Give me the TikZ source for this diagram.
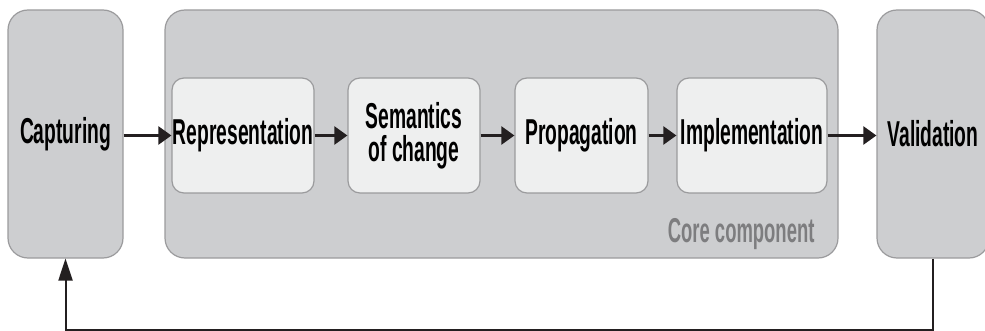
\documentclass[tikz,border=0pt]{standalone}
\usepackage{fontspec}
\setmainfont{Liberation Sans}[FakeStretch=0.535]
\usetikzlibrary{arrows.meta}
\definecolor{outergray}{RGB}{205,206,208}
\definecolor{innergray}{RGB}{238,239,239}
\definecolor{edgegray}{RGB}{155,155,157}
\definecolor{arrowdark}{RGB}{35,31,32}
\definecolor{labelgray}{RGB}{125,125,127}
\begin{document}
\begin{tikzpicture}[x=1pt,y=-1pt,
  outer/.style={draw=edgegray,line width=1.2pt,fill=outergray,rounded corners=20pt,
    minimum height=248pt,inner sep=0pt,font=\fontsize{36}{34}\selectfont\bfseries,text=black},
  inner/.style={draw=edgegray,line width=1.2pt,fill=innergray,rounded corners=12pt,
    minimum height=115pt,inner sep=0pt,align=center,
    font=\fontsize{36}{33}\selectfont\bfseries,text=black},
  flow/.style={draw=arrowdark,line width=2.4pt,-{Triangle[length=13pt,width=18pt]}},
  back/.style={draw=arrowdark,line width=2pt,-{Triangle[length=22pt,width=14pt]}}]
\useasboundingbox (0,0) rectangle (985,331);

% Outer blocks
\node[outer,minimum width=115pt] (capture) at (65.5,134) {Capturing};
\node[outer,minimum width=673pt] (core) at (501.5,134) {};
\node[outer,minimum width=112pt] (valid) at (933,134) {Validation};
\node[anchor=base east,text=labelgray,font=\fontsize{34.5}{36}\selectfont\bfseries] (corelabel) at (818,243) {Core component};

% Inner steps
\node[inner,minimum width=142pt] (repr) at (243,135.5) {Representation};
\node[inner,minimum width=132pt] (sem) at (414,135.5) {Semantics\\of change};
\node[inner,minimum width=133pt] (prop) at (581.5,135.5) {Propagation};
\node[inner,minimum width=150pt] (impl) at (752,135.5) {Implementation};

% Flow
\draw[flow] (capture.east |- repr.west) -- (repr.west);
\draw[flow] (repr) -- (sem);
\draw[flow] (sem) -- (prop);
\draw[flow] (prop) -- (impl);
\draw[flow] (impl.east) -- (valid.west |- impl.east);

% Feedback loop
\draw[back] (valid.south) -- ++(0,71) -| (capture.south);
\end{tikzpicture}
\end{document}
